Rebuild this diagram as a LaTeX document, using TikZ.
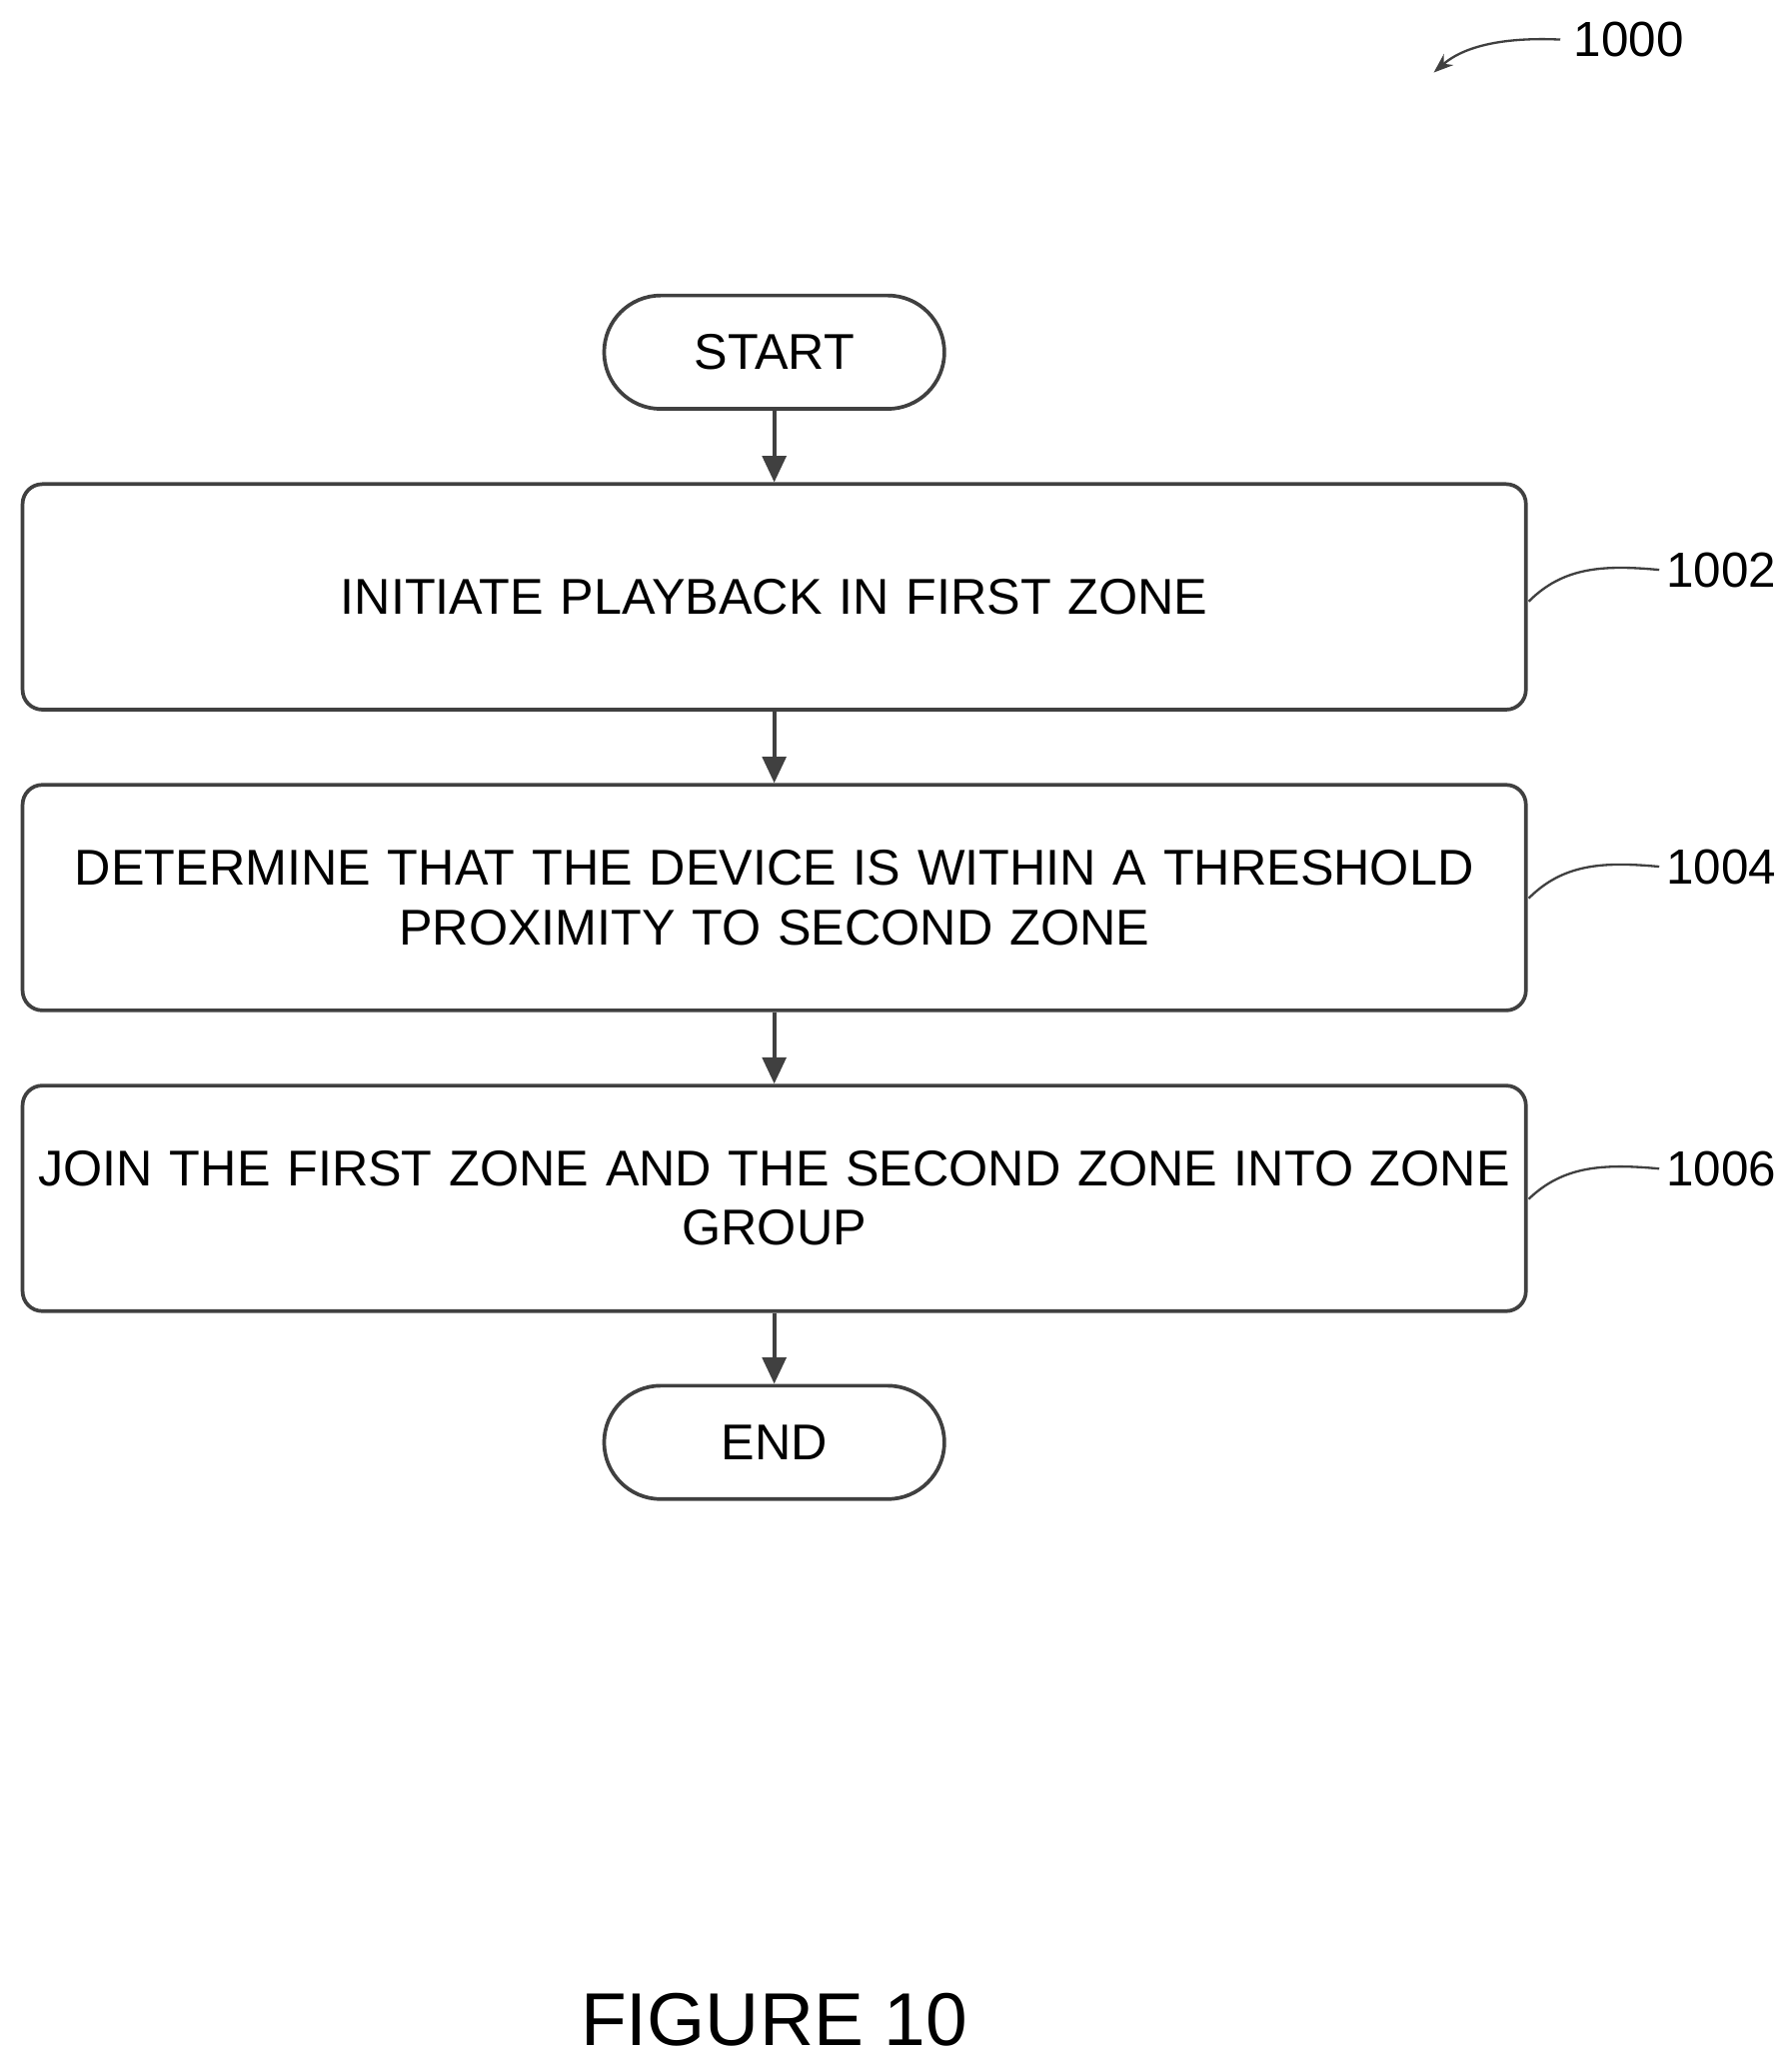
\documentclass[tikz,border=0pt]{standalone}
\usepackage{fontspec}
\setmainfont{Liberation Sans}
\usetikzlibrary{arrows.meta}
\begin{document}
\begin{tikzpicture}[x=0.02cm,y=-0.02cm,
  ln/.style={draw=black!75,line width=1.6pt},
  box/.style={ln,rounded corners=0.3cm,text width=22.8cm,minimum height=3.42cm,align=center,inner sep=0pt,
    font=\fontsize{21.7}{25.6}\selectfont},
  term/.style={ln,rounded corners=0.86cm,minimum width=5.16cm,minimum height=1.72cm,inner sep=0pt,
    font=\fontsize{21.7}{25.6}\selectfont},
  arr/.style={ln,-{Triangle[length=0.4cm,width=0.36cm]}},
  lbl/.style={font=\fontsize{21.3}{24}\selectfont,inner sep=0pt},
  lead/.style={draw=black!75,line width=1pt}]
\useasboundingbox (0,0) rectangle (1358,1564);
\node[term] (start) at (587,267) {START};
\node[box] (b1) at (587,452.5) {INITIATE PLAYBACK IN FIRST ZONE};
\node[box] (b2) at (587,680.5) {DETERMINE THAT THE DEVICE IS WITHIN A THRESHOLD\\PROXIMITY TO SECOND ZONE};
\node[box] (b3) at (587,908.5) {JOIN THE FIRST ZONE AND THE SECOND ZONE INTO ZONE\\GROUP};
\node[term] (end) at (587,1093.5) {END};
\draw[arr] (start) -- (b1);
\draw[arr] (b1) -- (b2);
\draw[arr] (b2) -- (b3);
\draw[arr] (b3) -- (end);
\node[lbl,anchor=west] (l1) at (1263,432) {1002};
\node[lbl,anchor=west] (l2) at (1263,657) {1004};
\node[lbl,anchor=west] (l3) at (1263,886) {1006};
\coordinate (c1) at (1159,456);
\coordinate (c2) at (1159,681);
\coordinate (c3) at (1159,909);
\draw[lead] (c1) .. controls (1185,430) and (1215,428) .. ([xshift=-0.1cm]l1.west);
\draw[lead] (c2) .. controls (1185,655) and (1215,653) .. ([xshift=-0.1cm]l2.west);
\draw[lead] (c3) .. controls (1185,884) and (1215,882) .. ([xshift=-0.1cm]l3.west);
\node[lbl,anchor=west] (l0) at (1193,30) {1000};
\coordinate (a0) at (1087,55);
\draw[lead,-{Stealth[length=0.3cm,width=0.22cm]}] ([xshift=-0.2cm]l0.west) .. controls (1140,28) and (1110,35) .. (a0);
\node[font=\fontsize{32.3}{36}\selectfont,inner sep=0pt] (fig) at (587,1531) {FIGURE 10};
\end{tikzpicture}
\end{document}
